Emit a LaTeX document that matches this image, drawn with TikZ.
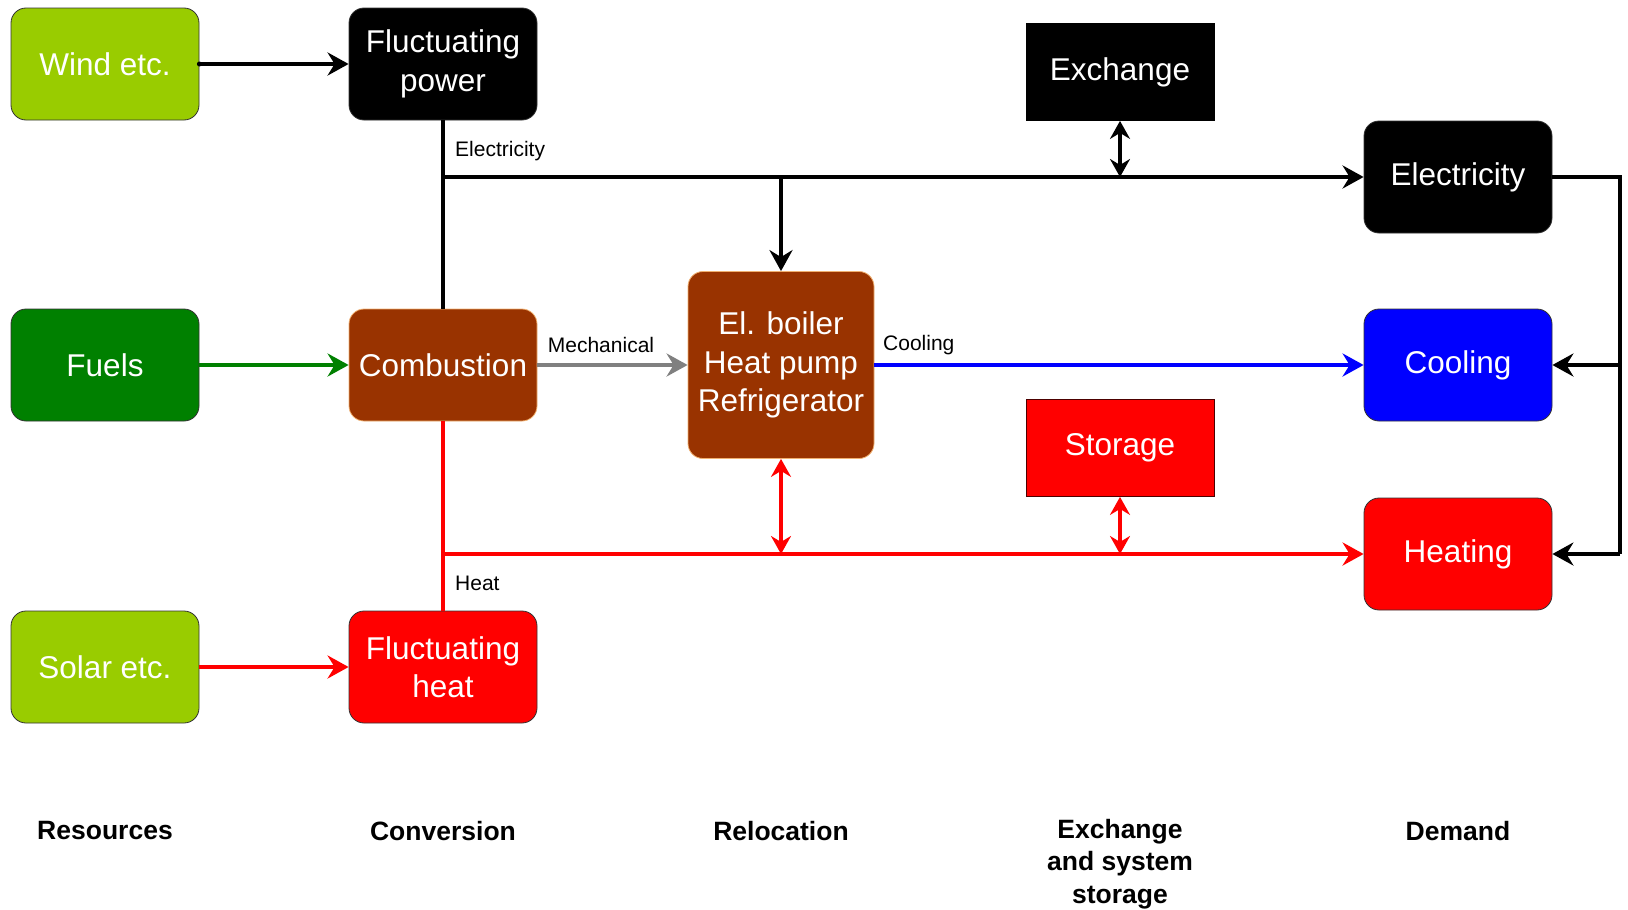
\documentclass[tikz,border=0pt]{standalone}
\usepackage{fontspec}
\setmainfont{Liberation Sans}
\usetikzlibrary{arrows.meta}
\definecolor{lgreen}{HTML}{99CC00}
\definecolor{dgreen}{HTML}{008000}
\definecolor{brown}{HTML}{993300}
\definecolor{brownedge}{HTML}{F0B070}
\definecolor{pblue}{HTML}{0000FF}
\definecolor{pred}{HTML}{FF0000}
\definecolor{mgray}{HTML}{808080}
\tikzset{
  box/.style={rounded corners=15pt, minimum width=188pt, minimum height=112pt, inner sep=0pt,
    align=center, text=white, font=\fontsize{31.5}{38.5}\selectfont, draw=black!80, line width=0.8pt},
  sqbox/.style={minimum width=188pt, minimum height=97pt, inner sep=0pt,
    align=center, text=white, font=\fontsize{31.5}{38.5}\selectfont, draw=black!80, line width=0.8pt},
  flow/.style={line width=4pt, -{Stealth[length=21pt,width=23pt,inset=7pt]}},
  line/.style={line width=4pt},
  dbl/.style={line width=4pt, {Stealth[length=18pt,width=20pt,inset=6pt]}-{Stealth[length=18pt,width=20pt,inset=6pt]}},
  lab/.style={font=\fontsize{21}{25}\selectfont, inner sep=0pt, anchor=west},
  col/.style={font=\bfseries\fontsize{26.5}{32.3}\selectfont, align=center, inner sep=0pt},
}
\begin{document}
\begin{tikzpicture}[x=1pt,y=-1pt]
\useasboundingbox (0,0) rectangle (1628,910);
% nodes
\node[box, fill=lgreen] (wind) at (105,64) {Wind etc.};
\node[box, fill=black] (fp) at (443,64) {Fluctuating\\power};
\node[sqbox, fill=black, draw=black] (ex) at (1120,72) {Exchange};
\node[box, fill=black] (elec) at (1458,177) {Electricity};
\node[box, fill=dgreen] (fuels) at (105,365) {Fuels};
\node[box, fill=brown, draw=brownedge] (comb) at (443,365) {Combustion};
\node[box, fill=brown, draw=brownedge, minimum width=186pt, minimum height=187pt] (boil) at (781,365) {El. boiler\\Heat pump\\Refrigerator};
\node[box, fill=pblue] (cool) at (1458,365) {Cooling};
\node[sqbox, fill=pred, draw=black!70!red] (stor) at (1120,448) {Storage};
\node[box, fill=pred] (heat) at (1458,554) {Heating};
\node[box, fill=lgreen] (solar) at (105,667) {Solar etc.};
\node[box, fill=pred] (fh) at (443,667) {Fluctuating\\heat};
% junctions
\coordinate (jE) at (443,177);
\coordinate (jH) at (443,554);
\coordinate (rTop) at (1620,177);
\coordinate (rMid) at (1620,365);
\coordinate (rBot) at (1620,554);
% connectors
\draw[flow] (wind) -- (fp);
\fill (wind.east) circle (2.5pt);
\draw[line] (fp.south) -- (comb.north);
\draw[flow] (jE) -- (elec.west);
\draw[flow] (boil.north |- jE) -- (boil.north);
\draw[dbl] (ex.south) -- (ex.south |- jE);
\draw[flow, dgreen] (fuels) -- (comb);
\draw[flow, mgray] (comb) -- (boil.west |- comb);
\draw[flow, pblue] (boil.east |- cool) -- (cool.west);
\draw[line, pred] (comb.south) -- (fh.north);
\draw[flow, pred] (jH) -- (heat.west);
\draw[dbl, pred] (boil.south) -- (boil.south |- jH);
\draw[dbl, pred] (stor.south) -- (stor.south |- jH);
\draw[flow, pred] (solar) -- (fh);
\draw[line, line join=miter] (elec.east) -- (rTop) -- (rBot);
\draw[flow] (rBot) -- (heat.east);
\draw[flow] (rMid) -- (cool.east);
% labels
\node[lab] (lE) at (455,151) {Electricity};
\node[lab, anchor=center] (lM) at (601,345) {Mechanical};
\node[lab] (lC) at (883,345) {Cooling};
\node[lab] (lH) at (455,583) {Heat};
% column titles
\node[col] (c1) at (105,831) {Resources};
\node[col] (c2) at (443,831) {Conversion};
\node[col] (c3) at (781,831) {Relocation};
\node[col] (c4) at (1120,864) {Exchange\\and system\\storage};
\node[col] (c5) at (1458,831) {Demand};
\end{tikzpicture}
\end{document}
